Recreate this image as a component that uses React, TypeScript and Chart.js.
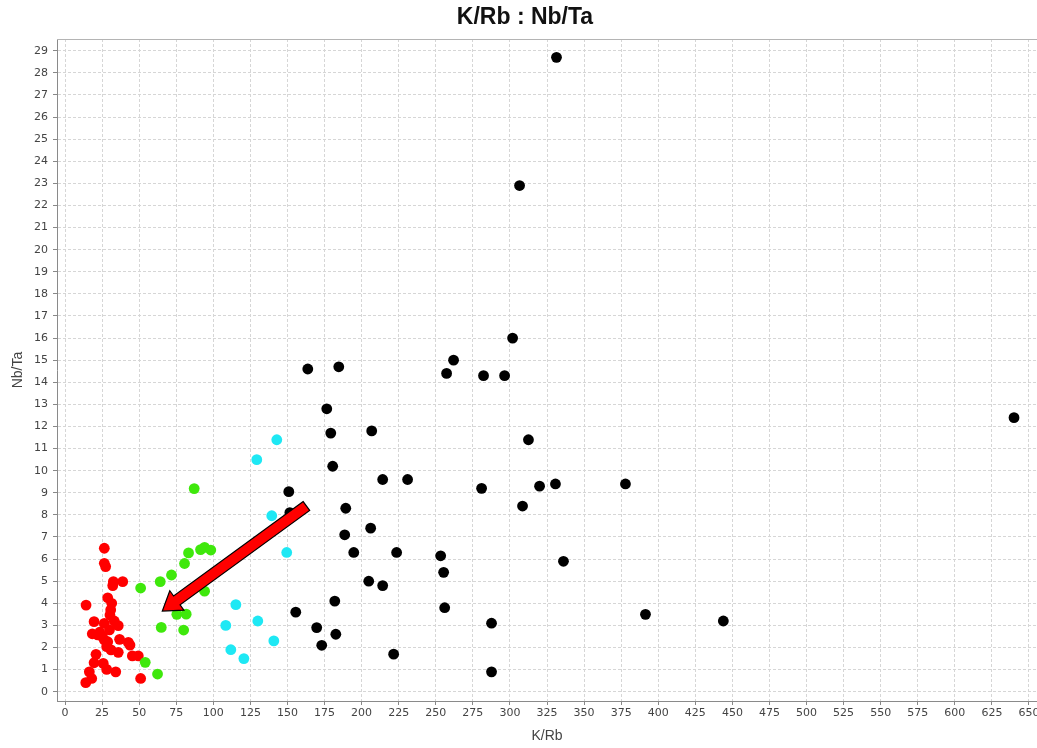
import React, { useEffect, useRef } from "react";
import { Chart, registerables } from "chart.js";

Chart.register(...registerables);

const chartTitle = "K/Rb : Nb/Ta";
const xAxisTitle = "K/Rb";
const yAxisTitle = "Nb/Ta";

const xTickValues = [0, 25, 50, 75, 100, 125, 150, 175, 200, 225, 250, 275, 300, 325, 350, 375, 400, 425, 450, 475, 500, 525, 550, 575, 600, 625, 650];
const yTickValues = [0, 1, 2, 3, 4, 5, 6, 7, 8, 9, 10, 11, 12, 13, 14, 15, 16, 17, 18, 19, 20, 21, 22, 23, 24, 25, 26, 27, 28, 29];

const blackX = [331.4, 306.5, 301.8, 262, 257.3, 282.2, 296.4, 163.7, 184.6, 176.5, 179.2, 206.8, 312.5, 639.9, 180.5, 214.2, 231, 280.9, 320, 330.7, 377.9, 308.5, 150.9, 151.6, 189.3, 188.6, 206.1, 194.7, 223.6, 253.3, 255.3, 336.1, 204.8, 214.2, 181.9, 256, 155.6, 391.4, 443.9, 169.7, 287.6, 182.6, 173.1, 221.6, 287.6];
const blackY = [28.7, 22.9, 16.0, 15.0, 14.4, 14.3, 14.3, 14.6, 14.7, 12.8, 11.7, 11.8, 11.4, 12.4, 10.2, 9.6, 9.6, 9.2, 9.3, 9.4, 9.4, 8.4, 9.05, 8.1, 8.3, 7.1, 7.4, 6.3, 6.3, 6.15, 5.4, 5.9, 5.0, 4.8, 4.1, 3.8, 3.6, 3.5, 3.2, 2.9, 3.1, 2.6, 2.1, 1.7, 0.9];

const cyanX = [142.8, 129.3, 139.4, 149.5, 115.2, 108.4, 130, 140.8, 111.8, 120.6];
const cyanY = [11.4, 10.5, 7.96, 6.3, 3.94, 3.0, 3.2, 2.3, 1.9, 1.5];

const greenX = [87.1, 83.3, 91.4, 94.1, 98.3, 80.6, 71.8, 64.2, 51, 94.1, 75.4, 81.7, 64.9, 80, 54.1, 62.4];
const greenY = [9.19, 6.28, 6.43, 6.53, 6.41, 5.8, 5.28, 4.98, 4.69, 4.55, 3.5, 3.51, 2.91, 2.79, 1.33, 0.8];

const redX = [26.5, 26.5, 27.4, 32.6, 38.9, 32.2, 28.8, 31.5, 14.2, 30.8, 30.3, 19.6, 26.5, 33.2, 35.9, 18.4, 23.4, 26.5, 25.2, 28.8, 36.8, 42.7, 43.8, 28.1, 31, 35.9, 20.9, 45.4, 49.4, 19.6, 25.8, 28.1, 34.2, 16.4, 18, 14, 51, 22, 30];
const redY = [6.49, 5.81, 5.66, 4.98, 4.98, 4.8, 4.25, 4.0, 3.92, 3.7, 3.47, 3.17, 3.09, 3.2, 2.99, 2.62, 2.69, 2.34, 2.49, 2.26, 2.37, 2.23, 2.11, 2.04, 1.89, 1.78, 1.69, 1.62, 1.62, 1.31, 1.28, 1.01, 0.9, 0.9, 0.6, 0.41, 0.6, 2.57, 2.8];

// arrow annotation in data units: tail -> tip
const arrowFrom = [162.8, 8.4];
const arrowTo = [65.6, 3.65];

const pts = (xs: number[], ys: number[]) => xs.map((x, i) => ({ x, y: ys[i] }));

const titlePlugin = {
  id: "customTitle",
  afterDraw(chart: any) {
    const ctx = chart.ctx;
    ctx.save();
    ctx.font = "bold 23px 'Liberation Sans', Arial, sans-serif";
    ctx.fillStyle = "#111";
    ctx.textAlign = "center";
    ctx.textBaseline = "middle";
    ctx.fillText(chartTitle, 525, 18);
    ctx.restore();
  },
};

const framePlugin = {
  id: "frame",
  beforeDatasetsDraw(chart: any) {
    const { ctx, chartArea } = chart;
    ctx.save();
    ctx.strokeStyle = "#b4b4b4";
    ctx.lineWidth = 1;
    ctx.beginPath();
    ctx.moveTo(chartArea.left, chartArea.top + 0.5);
    ctx.lineTo(chartArea.right, chartArea.top + 0.5);
    ctx.stroke();
    ctx.restore();
  },
};

const arrowPlugin = {
  id: "arrow",
  afterDatasetsDraw(chart: any) {
    const { ctx } = chart;
    const xs = chart.scales.x;
    const ys = chart.scales.y;
    const x1 = xs.getPixelForValue(arrowFrom[0]);
    const y1 = ys.getPixelForValue(arrowFrom[1]);
    const x2 = xs.getPixelForValue(arrowTo[0]);
    const y2 = ys.getPixelForValue(arrowTo[1]);
    const dx = x2 - x1;
    const dy = y2 - y1;
    const len = Math.hypot(dx, dy);
    const ux = dx / len;
    const uy = dy / len;
    const nx = -uy;
    const ny = ux;
    const shaftHalf = 5.5;
    const headHalf = 12;
    const headLen = 18;
    const bx = x2 - ux * headLen;
    const by = y2 - uy * headLen;
    ctx.save();
    ctx.beginPath();
    ctx.moveTo(x1 + nx * shaftHalf, y1 + ny * shaftHalf);
    ctx.lineTo(bx + nx * shaftHalf, by + ny * shaftHalf);
    ctx.lineTo(bx + nx * headHalf, by + ny * headHalf);
    ctx.lineTo(x2, y2);
    ctx.lineTo(bx - nx * headHalf, by - ny * headHalf);
    ctx.lineTo(bx - nx * shaftHalf, by - ny * shaftHalf);
    ctx.lineTo(x1 - nx * shaftHalf, y1 - ny * shaftHalf);
    ctx.closePath();
    ctx.fillStyle = "#ff0000";
    ctx.fill();
    ctx.strokeStyle = "#000";
    ctx.lineWidth = 1.2;
    ctx.lineJoin = "miter";
    ctx.stroke();
    ctx.restore();
  },
};

export default function App() {
  const canvasRef = useRef<HTMLCanvasElement | null>(null);

  useEffect(() => {
    const canvas = canvasRef.current;
    if (!canvas) return;
    const tickFont = { family: "'DejaVu Sans', sans-serif", size: 11 };
    const axisTitleFont = { family: "'Liberation Sans', Arial, sans-serif", size: 14 };
    const mk = (label: string, data: any[], color: string) => ({
      label,
      data,
      backgroundColor: color,
      borderColor: color,
      borderWidth: 0,
      pointRadius: 5.4,
      pointHoverRadius: 5.4,
      showLine: false,
    });
    const chart = new Chart(canvas, {
      type: "scatter",
      data: {
        datasets: [
          mk("black", pts(blackX, blackY), "#000000"),
          mk("cyan", pts(cyanX, cyanY), "#1ee8f4"),
          mk("green", pts(greenX, greenY), "#3fe80c"),
          mk("red", pts(redX, redY), "#ff0000"),
        ],
      },
      options: {
        responsive: false,
        animation: false,
        devicePixelRatio: 1,
        layout: { autoPadding: false, padding: { top: 39, left: 0, right: 0, bottom: 0 } },
        plugins: {
          legend: { display: false },
          title: { display: false },
          tooltip: { enabled: false },
        },
        scales: {
          x: {
            type: "linear",
            min: -5.4,
            max: 655.4,
            afterBuildTicks: (s: any) => {
              s.ticks = xTickValues.map((v) => ({ value: v }));
            },
            afterFit: (s: any) => {
              s.height = 47;
              s.paddingLeft = 0;
              s.paddingRight = 0;
            },
            ticks: { font: tickFont, color: "#444", padding: 2, maxRotation: 0, autoSkip: false },
            grid: { color: "#d6d6d6", tickColor: "#888", tickLength: 4, lineWidth: 1 },
            border: { display: true, color: "#8a8a8a", width: 1, dash: [3, 2] },
            title: { display: true, text: xAxisTitle, font: axisTitleFont, color: "#444", padding: { top: 0, bottom: 3 } },
          },
          y: {
            type: "linear",
            min: -0.42,
            max: 29.53,
            afterBuildTicks: (s: any) => {
              s.ticks = yTickValues.map((v) => ({ value: v }));
            },
            afterFit: (s: any) => {
              s.width = 57;
              s.paddingTop = 0;
              s.paddingBottom = 0;
            },
            ticks: { font: tickFont, color: "#444", padding: 5, autoSkip: false },
            grid: { color: "#d6d6d6", tickColor: "#888", tickLength: 4, lineWidth: 1 },
            border: { display: true, color: "#8a8a8a", width: 1, dash: [3, 2] },
            title: { display: true, text: yAxisTitle, font: axisTitleFont, color: "#444", padding: { top: 10, bottom: 0 } },
          },
        },
      },
      plugins: [framePlugin, arrowPlugin, titlePlugin],
    } as any);
    return () => chart.destroy();
  }, []);

  return (
    <div style={{ position: "absolute", left: 0, top: 0, width: 1037, height: 748, background: "#fff", overflow: "hidden" }}>
      <canvas ref={canvasRef} width={1037} height={748} style={{ width: 1037, height: 748, display: "block" }} />
    </div>
  );
}
